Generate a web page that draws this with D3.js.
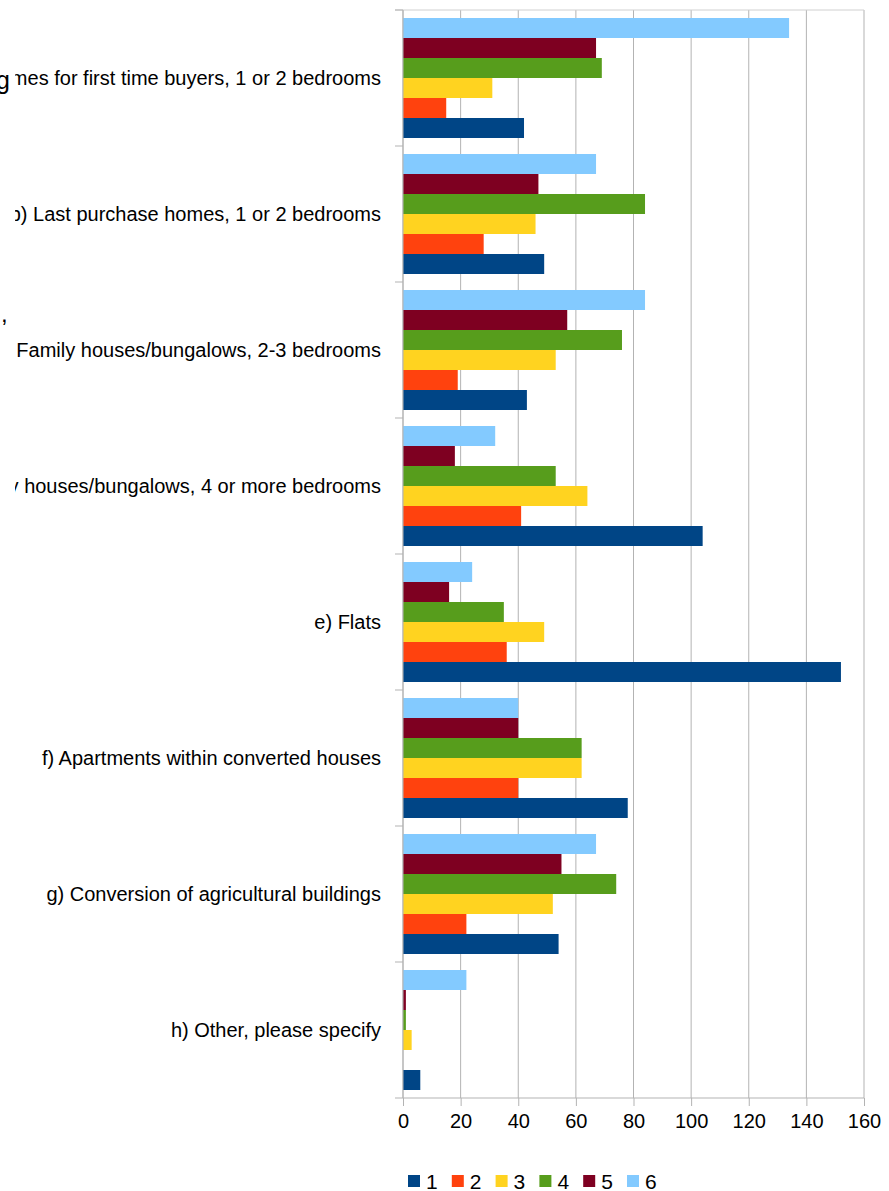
<!DOCTYPE html>
<html>
<head>
<meta charset="utf-8">
<script src="https://cdn.jsdelivr.net/npm/d3@7"></script>
<style>
  body { margin: 0; background: #fff; }
  text { font-family: "Liberation Sans", Arial, sans-serif; fill: #000; }
</style>
</head>
<body>
<div id="chart"></div>
<script>
const categories = [
  "a) Starter homes for first time buyers, 1 or 2 bedrooms",
  "b) Last purchase homes, 1 or 2 bedrooms",
  "c) Family houses/bungalows, 2-3 bedrooms",
  "d) Family houses/bungalows, 4 or more bedrooms",
  "e) Flats",
  "f) Apartments within converted houses",
  "g) Conversion of agricultural buildings",
  "h) Other, please specify"
];
const seriesNames = ["1", "2", "3", "4", "5", "6"];
const s1 = [42, 49, 43, 104, 152, 78, 54, 6];
const s2 = [15, 28, 19, 41, 36, 40, 22, 0];
const s3 = [31, 46, 53, 64, 49, 62, 52, 3];
const s4 = [69, 84, 76, 53, 35, 62, 74, 1];
const s5 = [67, 47, 57, 18, 16, 40, 55, 1];
const s6 = [134, 67, 84, 32, 24, 40, 67, 22];
const seriesValues = [s1, s2, s3, s4, s5, s6];
const colors = ["#004586", "#ff420e", "#ffd320", "#579d1c", "#7e0021", "#83caff"];
const xTicks = [0, 20, 40, 60, 80, 100, 120, 140, 160];

const width = 889, height = 1191;
const plotL = 403, plotR = 864, plotT = 10, plotB = 1098;

const svg = d3.select("#chart").append("svg")
  .attr("width", width).attr("height", height);

const x = d3.scaleLinear().domain([0, 160]).range([plotL, plotR]);
const y = d3.scaleBand().domain(categories).range([plotT, plotB]).padding(0);
// series 6 drawn on top inside each group
const ys = d3.scaleBand().domain(seriesNames.slice().reverse())
  .range([8, y.bandwidth() - 8]).padding(0);

// grid
svg.append("g").selectAll("line").data(xTicks).join("line")
  .attr("x1", d => x(d)).attr("x2", d => x(d))
  .attr("y1", plotT).attr("y2", plotB)
  .attr("stroke", "#b3b3b3").attr("stroke-width", 1);
svg.append("line").attr("x1", plotL - 8).attr("x2", plotR)
  .attr("y1", plotT).attr("y2", plotT).attr("stroke", "#d0d0d0");

// bars
seriesValues.forEach((vals, si) => {
  svg.append("g").selectAll("rect").data(vals).join("rect")
    .attr("x", x(0))
    .attr("y", (d, i) => y(categories[i]) + ys(seriesNames[si]))
    .attr("width", d => x(d) - x(0))
    .attr("height", ys.bandwidth())
    .attr("fill", colors[si]);
});

// bottom axis
const gx = svg.append("g").attr("transform", `translate(0,${plotB})`)
  .call(d3.axisBottom(x).tickValues(xTicks).tickSize(8).tickPadding(8));
gx.select(".domain").attr("stroke", "#b3b3b3").attr("d", `M${plotL},0H${plotR}`);
gx.selectAll(".tick line").attr("stroke", "#b3b3b3");
gx.selectAll(".tick text").style("font-size", "20px")
  .style("font-family", "Liberation Sans, Arial, sans-serif");

// left axis line with ticks at group boundaries
svg.append("line").attr("x1", plotL).attr("x2", plotL).attr("y1", plotT).attr("y2", plotB)
  .attr("stroke", "#b3b3b3");
const bounds = categories.map(c => y(c)).concat([plotB]);
svg.append("g").selectAll("line").data(bounds).join("line")
  .attr("x1", plotL - 8).attr("x2", plotL)
  .attr("y1", d => d).attr("y2", d => d)
  .attr("stroke", "#b3b3b3");

// category labels (clipped at left like the original)
svg.append("clipPath").attr("id", "lblclip").append("rect")
  .attr("x", 15).attr("y", 0).attr("width", plotL).attr("height", height);
svg.append("g").attr("clip-path", "url(#lblclip)")
  .selectAll("text").data(categories).join("text")
  .attr("x", 381)
  .attr("y", d => y(d) + y.bandwidth() / 2)
  .attr("dy", "0.35em")
  .attr("text-anchor", "end")
  .style("font-size", "20px")
  .text(d => d);

// stray glyphs at the left edge
svg.append("text").attr("x", -4).attr("y", 89).style("font-size", "25px").text("g");
svg.append("text").attr("x", 1).attr("y", 322).style("font-size", "24px").text(",");

// legend
const legend = svg.append("g").attr("transform", "translate(408,1181)");
const item = legend.selectAll("g").data(seriesNames).join("g")
  .attr("transform", (d, i) => `translate(${i * 43.8},0)`);
item.append("rect").attr("x", 0).attr("y", -6).attr("width", 12).attr("height", 12)
  .attr("fill", (d, i) => colors[i]);
item.append("text").attr("x", 18).attr("dy", "0.36em")
  .style("font-size", "21px").text(d => d);
</script>
</body>
</html>
